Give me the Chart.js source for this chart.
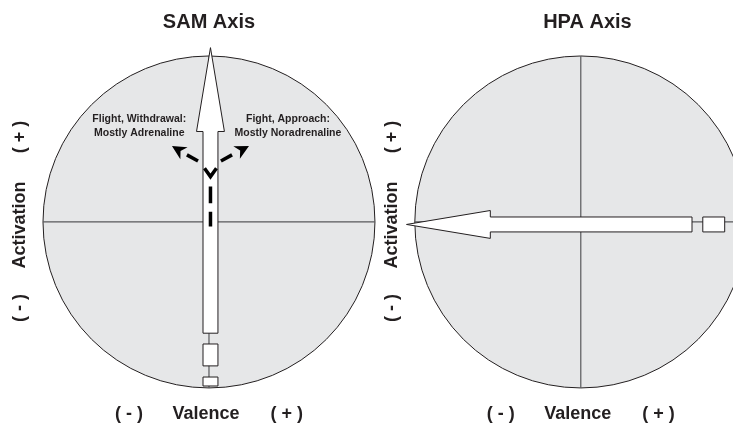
<!DOCTYPE html>
<html>
<head>
<meta charset="utf-8">
<script src="https://cdn.jsdelivr.net/npm/chart.js@4/dist/chart.umd.min.js"></script>
<style>
html, body { margin: 0; padding: 0; background: #fff; }
canvas { display: block; }
</style>
</head>
<body>
<canvas id="axes" width="733" height="426"></canvas>
<script>
// one unit = radius of a circle, circle centres on the x axis
const panelTitles = ['SAM Axis', 'HPA Axis'];
const panelCenters = [0, 2.24];
const titleShift = [0, 0.04];
const arrowDirections = ['up', 'left'];
const arrowShift = [0.009, -0.015];

// arrow parts, distance along the axis from the centre
const arrowTip = 1.05;
const arrowHeadBase = 0.545;
const arrowShaftEnd = -0.67;
const headHalf = 0.084;
const shaftHalf = 0.045;
const boxFrom = [-0.735, -0.934];
const boxTo = [-0.867, -0.988];

// dashed path inside the SAM shaft
const vArm = [0.323, 0.273];
const shaftDashes = [[0.213, 0.113], [0.062, -0.028]];

// dashed arrows of the SAM panel: start, dash end, tip
const branchLabels = [['Flight, Withdrawal:', 'Mostly Adrenaline'], ['Fight, Approach:', 'Mostly Noradrenaline']];
const branchLabelX = [-0.42, 0.476];
const branchLabelY = [0.618, 0.536];
const branchPaths = [
    [[-0.066, 0.367], [-0.133, 0.404], [-0.223, 0.458]],
    [[0.072, 0.367], [0.139, 0.404], [0.241, 0.458]]
];

// axis labels
const activationLabels = ['( + )', 'Activation', '( - )'];
const activationY = [0.512, -0.018, -0.518];
const valenceLabels = ['( - )', 'Valence', '( + )'];
const valenceX = [-0.482, -0.018, 0.468];

const ink = '#231f20';

const diagram = {
    id: 'diagram',
    afterDatasetsDraw(chart) {
        const ctx = chart.ctx;
        const sx = chart.scales.x, sy = chart.scales.y;
        const px = u => sx.getPixelForValue(u);
        const py = v => sy.getPixelForValue(v);

        panelCenters.forEach(function(cx, i) {
            const r = px(cx + 1) - px(cx);
            // circle
            ctx.save();
            ctx.beginPath();
            ctx.arc(px(cx), py(0), r, 0, Math.PI * 2);
            ctx.fillStyle = '#e6e7e8';
            ctx.fill();
            ctx.lineWidth = 1;
            ctx.strokeStyle = ink;
            ctx.stroke();
            // cross lines
            ctx.strokeStyle = '#58595b';
            ctx.lineWidth = 1.2;
            ctx.beginPath();
            ctx.moveTo(px(cx - 1), py(0));
            ctx.lineTo(px(cx + 1), py(0));
            ctx.moveTo(px(cx), py(1));
            ctx.lineTo(px(cx), py(-1));
            ctx.stroke();

            // map (along, across) into pixels
            const dir = arrowDirections[i];
            const pt = function(a, c) {
                if (dir == 'up') return [px(cx + arrowShift[i] + c), py(a)];
                return [px(cx - a), py(arrowShift[i] + c)];
            };
            const poly = function(list) {
                ctx.beginPath();
                list.forEach(function(p, k) {
                    const q = pt(p[0], p[1]);
                    if (k == 0) ctx.moveTo(q[0], q[1]); else ctx.lineTo(q[0], q[1]);
                });
                ctx.closePath();
                ctx.fillStyle = '#fff';
                ctx.fill();
                ctx.strokeStyle = ink;
                ctx.lineWidth = 1;
                ctx.stroke();
            };
            poly([
                [arrowTip, 0], [arrowHeadBase, headHalf], [arrowHeadBase, shaftHalf],
                [arrowShaftEnd, shaftHalf], [arrowShaftEnd, -shaftHalf],
                [arrowHeadBase, -shaftHalf], [arrowHeadBase, -headHalf]
            ]);
            boxFrom.forEach(function(a0, k) {
                const a1 = boxTo[k];
                poly([[a0, shaftHalf], [a1, shaftHalf], [a1, -shaftHalf], [a0, -shaftHalf]]);
            });

            // SAM only: dashed branching inside the shaft
            if (dir == 'up') {
                ctx.strokeStyle = '#000';
                ctx.lineWidth = 3.5;
                ctx.lineCap = 'butt';
                ctx.beginPath();
                let q = pt(vArm[0], -0.036); ctx.moveTo(q[0], q[1]);
                q = pt(vArm[1], 0); ctx.lineTo(q[0], q[1]);
                q = pt(vArm[0], 0.036); ctx.lineTo(q[0], q[1]);
                shaftDashes.forEach(function(d) {
                    let a = pt(d[0], 0), b = pt(d[1], 0);
                    ctx.moveTo(a[0], a[1]); ctx.lineTo(b[0], b[1]);
                });
                ctx.stroke();

                branchPaths.forEach(function(p) {
                    const s = [px(p[0][0]), py(p[0][1])];
                    const e = [px(p[1][0]), py(p[1][1])];
                    const t = [px(p[2][0]), py(p[2][1])];
                    ctx.beginPath();
                    ctx.moveTo(s[0], s[1]);
                    ctx.lineTo(e[0], e[1]);
                    ctx.stroke();
                    let dx = t[0] - e[0], dy = t[1] - e[1];
                    const len = Math.hypot(dx, dy);
                    dx /= len; dy /= len;
                    const hl = 14, hw = 7;
                    const bx = t[0] - dx * hl, by = t[1] - dy * hl;
                    ctx.beginPath();
                    ctx.moveTo(t[0], t[1]);
                    ctx.lineTo(bx - dy * hw, by + dx * hw);
                    ctx.lineTo(t[0] - dx * (hl - 4), t[1] - dy * (hl - 4));
                    ctx.lineTo(bx + dy * hw, by - dx * hw);
                    ctx.closePath();
                    ctx.fillStyle = '#000';
                    ctx.fill();
                });

                ctx.fillStyle = ink;
                ctx.font = 'bold 10.5px "Liberation Sans", Arial, sans-serif';
                ctx.textAlign = 'center';
                ctx.textBaseline = 'middle';
                branchLabels.forEach(function(lines, k) {
                    lines.forEach(function(txt, j) {
                        ctx.fillText(txt, px(branchLabelX[k]), py(branchLabelY[j]));
                    });
                });
            }

            // titles and axis labels
            ctx.fillStyle = ink;
            ctx.textAlign = 'center';
            ctx.textBaseline = 'middle';
            ctx.font = 'bold 20px "Liberation Sans", Arial, sans-serif';
            ctx.fillText(panelTitles[i], px(cx + titleShift[i]), py(1.2));
            ctx.font = 'bold 18px "Liberation Sans", Arial, sans-serif';
            valenceLabels.forEach(function(txt, k) {
                ctx.fillText(txt, px(cx + valenceX[k]), py(-1.157));
            });
            activationLabels.forEach(function(txt, k) {
                ctx.save();
                ctx.translate(px(cx - 1.14), py(activationY[k]));
                ctx.rotate(-Math.PI / 2);
                ctx.fillText(txt, 0, 0);
                ctx.restore();
            });
            ctx.restore();
        });
    }
};

new Chart(document.getElementById('axes'), {
    type: 'scatter',
    data: { datasets: [{ data: [] }] },
    options: {
        responsive: false,
        animation: false,
        layout: { padding: 0 },
        plugins: { legend: { display: false }, tooltip: { enabled: false } },
        scales: {
            x: { type: 'linear', min: -1.259, max: 3.157, display: false },
            y: { type: 'linear', min: -1.229, max: 1.337, display: false }
        }
    },
    plugins: [diagram]
});
</script>
</body>
</html>
